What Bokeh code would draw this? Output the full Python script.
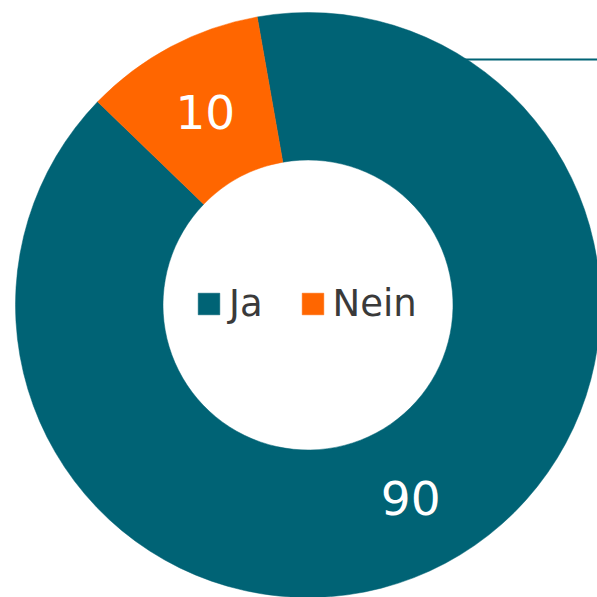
import numpy as np
from bokeh.plotting import figure
from bokeh.models import Range1d, Legend, LegendItem, ColumnDataSource
from bokeh.core.properties import value
from bokeh.embed import file_html
from bokeh.resources import INLINE

# ---- data ----
categories = ["Ja", "Nein"]
values = [90, 10]
colors = ["#006375", "#FF6600"]
value_labels = ["90", "10"]

# ---- geometry (pixels == data units) ----
W = H = 597
cx, cy = 307.5, H - 304.5
r_out, r_in = 292.5, 145.0
offset_deg = 100.0

total = float(sum(values))
cum = np.cumsum([0] + values)
end_deg = offset_deg - 360.0 * cum[:-1] / total
start_deg = offset_deg - 360.0 * cum[1:] / total
mid_deg = (start_deg + end_deg) / 2.0
r_lab = (r_out + r_in) / 2.0

src = ColumnDataSource(dict(
    cat=categories,
    val=values,
    color=colors,
    x=[cx] * len(values),
    y=[cy] * len(values),
    start=np.radians(start_deg),
    end=np.radians(end_deg),
    lx=cx + r_lab * np.cos(np.radians(mid_deg)),
    ly=cy + r_lab * np.sin(np.radians(mid_deg)),
    lab=value_labels,
))

p = figure(width=W, height=H, x_range=Range1d(0, W), y_range=Range1d(0, H),
           output_backend="svg", toolbar_location=None, min_border=0,
           outline_line_color=None)
p.axis.visible = False
p.grid.visible = False
p.background_fill_color = "white"
p.border_fill_color = "white"

# decorative leader line at top right
p.segment(x0=[cx], y0=[H - 59], x1=[W + 10], y1=[H - 59], line_color="#006375", line_width=2)

wedges = p.annular_wedge(x="x", y="y", inner_radius=r_in, outer_radius=r_out,
                         start_angle="start", end_angle="end",
                         fill_color="color", line_color="color", line_width=0.5,
                         source=src)

p.text(x="lx", y="ly", text="lab", source=src, text_align="center",
       text_baseline="middle", text_color="white",
       text_font=value("DejaVu Sans"), text_font_size="47px")

legend = Legend(items=[LegendItem(label=categories[i], renderers=[wedges], index=i)
                       for i in range(len(categories))],
                orientation="horizontal", location=(195, 272),
                padding=0, margin=0, spacing=36,
                glyph_width=27, glyph_height=27, label_standoff=7,
                label_text_font="DejaVu Sans", label_text_font_size="37px",
                label_text_color="#3a3a3a",
                border_line_color=None, background_fill_alpha=0)
p.add_layout(legend)

open("out.html", "w").write(file_html(p, INLINE))
